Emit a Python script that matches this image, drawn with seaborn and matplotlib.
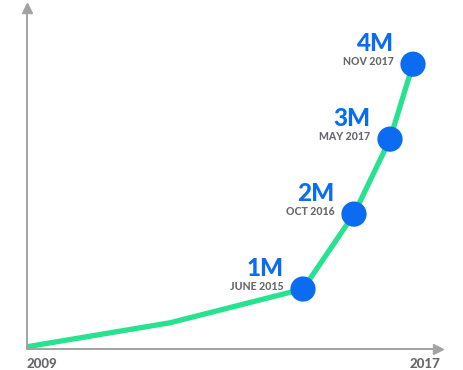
import matplotlib
matplotlib.use("Agg")
import matplotlib.pyplot as plt
import seaborn as sns
import pandas as pd

# growth curve (x is a relative time position, not to scale; y in millions)
curve_x = [0, 1.43, 2.76, 3.27, 3.63, 3.86]
curve_users = [0.23, 0.55, 1.0, 2.0, 3.0, 4.0]

# milestones
milestone_x = [2.76, 3.27, 3.63, 3.86]
milestone_users = [1.0, 2.0, 3.0, 4.0]
milestone_labels = ["1M", "2M", "3M", "4M"]
milestone_dates = ["JUNE 2015", "OCT 2016", "MAY 2017", "NOV 2017"]

axis_labels = ["2009", "2017"]

line_color = "#27e28e"
dot_color = "#0b6cf2"
axis_color = "#a3a3a3"
label_gray = "#68686d"

sns.set_theme(style="white")
plt.rcParams["font.family"] = ["Lato", "DejaVu Sans"]

df_curve = pd.DataFrame({"x": curve_x, "users": curve_users})
df_ms = pd.DataFrame({"x": milestone_x, "users": milestone_users})

fig = plt.figure(figsize=(4.64, 3.70), dpi=100)
W, H = 464, 370
ax = fig.add_axes([27 / W, (H - 349) / H, (438 - 27) / W, (349 - 8) / H])

sns.lineplot(data=df_curve, x="x", y="users", ax=ax, color=line_color,
             linewidth=3.8, solid_capstyle="butt", zorder=2)
sns.scatterplot(data=df_ms, x="x", y="users", ax=ax, color=dot_color,
                s=330, edgecolor="none", zorder=3)

ax.set_xlim(0, 4.11)
ax.set_ylim(0.2, 4.75)

# milestone annotations
for x, y, big, date in zip(milestone_x, milestone_users, milestone_labels, milestone_dates):
    ax.annotate(big, (x, y), xytext=(-14, 9.5), textcoords="offset points",
                ha="right", va="baseline", fontsize=17.5, fontweight="black",
                color=dot_color)
    ax.annotate(date, (x, y), xytext=(-14, -0.5), textcoords="offset points",
                ha="right", va="baseline", fontsize=7.6, fontweight="black",
                color=label_gray)

# axes with arrow heads
for side in ["top", "right"]:
    ax.spines[side].set_visible(False)
for side in ["left", "bottom"]:
    ax.spines[side].set_color(axis_color)
    ax.spines[side].set_linewidth(1.4)
ax.plot(0, 1, marker="^", color=axis_color, markersize=7,
        transform=ax.transAxes, clip_on=False)
ax.plot(1, 0, marker=">", color=axis_color, markersize=7,
        transform=ax.transAxes, clip_on=False)

ax.set_xticks([])
ax.set_yticks([])
ax.set_xlabel("")
ax.set_ylabel("")

ax.text(0, -0.025, axis_labels[0], transform=ax.transAxes, ha="left", va="top",
        fontsize=9.5, fontweight="black", color=label_gray)
ax.text(1.005, -0.025, axis_labels[1], transform=ax.transAxes, ha="right", va="top",
        fontsize=9.5, fontweight="black", color=label_gray)

fig.savefig("out.png", dpi=100)
